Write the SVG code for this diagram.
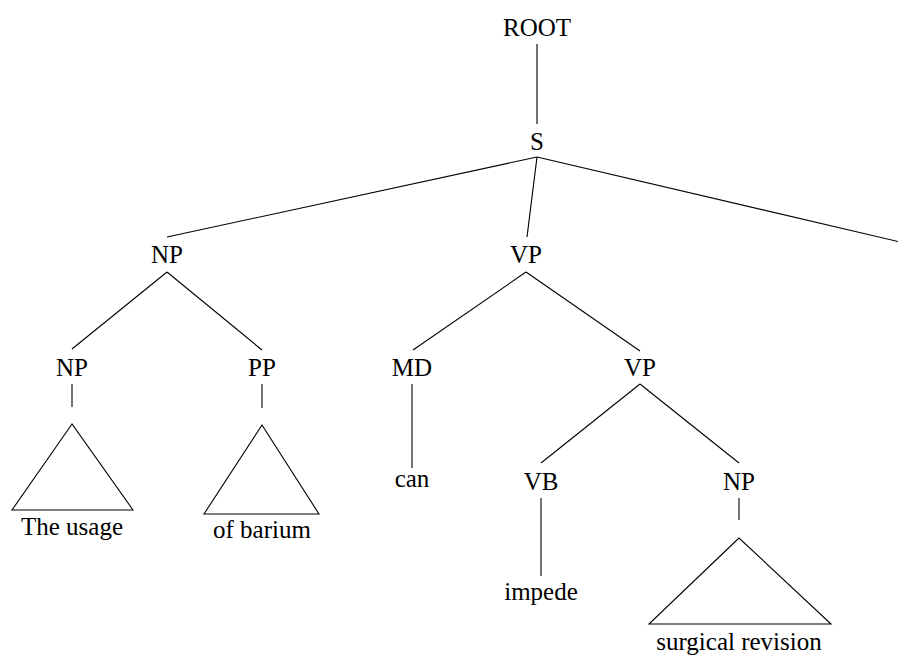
<svg xmlns="http://www.w3.org/2000/svg" width="898" height="655" viewBox="0 0 898 655">
<style>
text{font-family:'Liberation Serif','DejaVu Serif',serif;font-size:25px;fill:#000;text-anchor:middle}
.e line,.e polygon{stroke:#000;stroke-width:1.1;fill:none}
</style>
<rect width="898" height="655" fill="#fff"/>
<g class="e" id="connectors">
<line x1="537" y1="44" x2="537" y2="124"/>
<line x1="537" y1="157" x2="167" y2="237"/>
<line x1="537" y1="157" x2="527" y2="237"/>
<line x1="537" y1="157" x2="900" y2="242"/>
<line x1="167" y1="272" x2="72" y2="349"/>
<line x1="167" y1="272" x2="262" y2="350"/>
<line x1="72" y1="384" x2="72" y2="407"/>
<line x1="262" y1="384" x2="262" y2="408"/>
<polygon points="72,424 12,510 133,510"/>
<polygon points="262,425 204,514 319,514"/>
<line x1="526" y1="272" x2="413" y2="350"/>
<line x1="526" y1="272" x2="640" y2="351"/>
<line x1="412" y1="384" x2="412" y2="468"/>
<line x1="640" y1="384" x2="541" y2="463"/>
<line x1="640" y1="384" x2="739" y2="463"/>
<line x1="541" y1="498" x2="541" y2="576"/>
<line x1="739" y1="498" x2="739" y2="520"/>
<polygon points="739,538 649,624 831,624"/>
</g>
<g id="n-root"><text x="537" y="36">ROOT</text></g>
<g id="n-s"><text x="537" y="150">S</text></g>
<g id="n-np1"><text x="167" y="263">NP</text></g>
<g id="n-vp1"><text x="526" y="263">VP</text></g>
<g id="n-np2"><text x="72" y="376">NP</text></g>
<g id="n-pp"><text x="262" y="376">PP</text></g>
<g id="n-the-usage"><text x="72" y="535">The usage</text></g>
<g id="n-of-barium"><text x="262" y="538">of barium</text></g>
<g id="n-md"><text x="412" y="376">MD</text></g>
<g id="n-vp2"><text x="640" y="376">VP</text></g>
<g id="n-can"><text x="412" y="487">can</text></g>
<g id="n-vb"><text x="541" y="490">VB</text></g>
<g id="n-np3"><text x="739" y="490">NP</text></g>
<g id="n-impede"><text x="541" y="600">impede</text></g>
<g id="n-surgical"><text x="739" y="650">surgical revision</text></g>
</svg>
